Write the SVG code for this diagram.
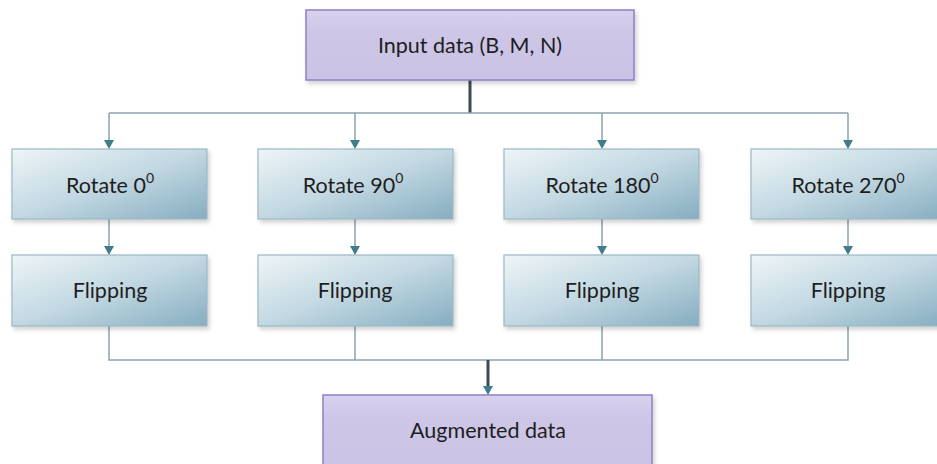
<svg xmlns="http://www.w3.org/2000/svg" width="937" height="464" viewBox="0 0 937 464">
<style>
.purple{fill:url(#pg);stroke:#8e80c6;stroke-width:1.5}
.blue{fill:url(#bg);stroke:#9bb7c4;stroke-width:1.2}
.t{font-family:Lato,"Open Sans","Liberation Sans",sans-serif;font-size:21.5px;fill:#1e1e1e;text-anchor:middle}
.sup{font-size:14px}
.c{fill:none;stroke:#8aa2ad;stroke-width:1.5}
.thick{fill:none;stroke:#3c4b52;stroke-width:3}
.ah{fill:#3f7d8c}
</style>
<defs>
<linearGradient id="bg" x1="0" y1="0" x2="1" y2="1">
<stop offset="0" stop-color="#eef5f8"/>
<stop offset="0.5" stop-color="#c2d8e2"/>
<stop offset="1" stop-color="#86adc0"/>
</linearGradient>
<linearGradient id="pg" x1="0" y1="0" x2="0" y2="1">
<stop offset="0" stop-color="#d8d2ee"/>
<stop offset="0.3" stop-color="#cdc6e7"/>
<stop offset="1" stop-color="#cac3e5"/>
</linearGradient>
<filter id="sh" x="-5%" y="-5%" width="115%" height="125%">
<feDropShadow dx="2" dy="3" stdDeviation="2" flood-color="#000" flood-opacity="0.18"/>
</filter>
<path id="arrow" d="M-5,-9 L5,-9 L0,0 Z"/>
</defs>
<g id="connectors">
<path class="thick" d="M470,80 V113"/>
<path class="c" d="M109,113 H848"/>
<path class="c" d="M109,113 V142"/>
<path class="c" d="M355,113 V142"/>
<path class="c" d="M602,113 V142"/>
<path class="c" d="M848,113 V142"/>
<path class="c" d="M109,219 V248"/>
<path class="c" d="M355,219 V248"/>
<path class="c" d="M602,219 V248"/>
<path class="c" d="M848,219 V248"/>
<use href="#arrow" class="ah" x="109" y="149"/>
<use href="#arrow" class="ah" x="355" y="149"/>
<use href="#arrow" class="ah" x="602" y="149"/>
<use href="#arrow" class="ah" x="848" y="149"/>
<use href="#arrow" class="ah" x="109" y="255"/>
<use href="#arrow" class="ah" x="355" y="255"/>
<use href="#arrow" class="ah" x="602" y="255"/>
<use href="#arrow" class="ah" x="848" y="255"/>
<path class="c" d="M109,326 V360 H848 V326"/>
<path class="c" d="M355,326 V360"/>
<path class="c" d="M602,326 V360"/>
<path class="thick" d="M488,360 V388"/>
<use href="#arrow" class="ah" x="488" y="395"/>
</g>
<g id="input">
<rect class="purple" x="306" y="10" width="328" height="70" filter="url(#sh)"/>
<text class="t" x="470" y="53">Input data (B, M, N)</text>
</g>
<g id="rot0">
<rect class="blue" x="12" y="149" width="195" height="70" filter="url(#sh)"/>
<text class="t" x="110" y="193">Rotate 0<tspan class="sup" dy="-10">0</tspan></text>
</g>
<g id="rot90">
<rect class="blue" x="258" y="149" width="195" height="70" filter="url(#sh)"/>
<text class="t" x="353" y="193">Rotate 90<tspan class="sup" dy="-10">0</tspan></text>
</g>
<g id="rot180">
<rect class="blue" x="504" y="149" width="195" height="70" filter="url(#sh)"/>
<text class="t" x="602" y="193">Rotate 180<tspan class="sup" dy="-10">0</tspan></text>
</g>
<g id="rot270">
<rect class="blue" x="751" y="149" width="195" height="70" filter="url(#sh)"/>
<text class="t" x="848" y="193">Rotate 270<tspan class="sup" dy="-10">0</tspan></text>
</g>
<g id="flip0">
<rect class="blue" x="12" y="255" width="195" height="71" filter="url(#sh)"/>
<text class="t" x="110" y="298">Flipping</text>
</g>
<g id="flip90">
<rect class="blue" x="258" y="255" width="195" height="71" filter="url(#sh)"/>
<text class="t" x="355" y="298">Flipping</text>
</g>
<g id="flip180">
<rect class="blue" x="504" y="255" width="195" height="71" filter="url(#sh)"/>
<text class="t" x="602" y="298">Flipping</text>
</g>
<g id="flip270">
<rect class="blue" x="751" y="255" width="195" height="71" filter="url(#sh)"/>
<text class="t" x="848" y="298">Flipping</text>
</g>
<g id="augmented">
<rect class="purple" x="323" y="395" width="329" height="75" filter="url(#sh)"/>
<text class="t" x="488" y="438">Augmented data</text>
</g>
</svg>
